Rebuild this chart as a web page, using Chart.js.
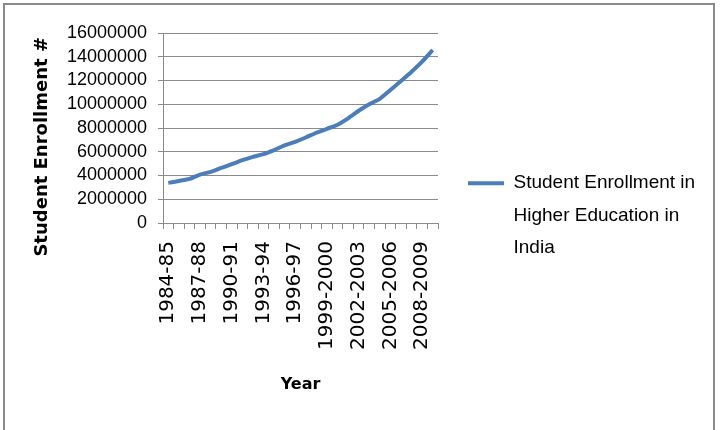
<!DOCTYPE html>
<html>
<head>
<meta charset="utf-8">
<script src="https://cdn.jsdelivr.net/npm/chart.js@4"></script>
<style>
  html, body { margin: 0; padding: 0; background: #fff; }
  #wrap { position: relative; width: 723px; height: 430px; }
  #frame { position: absolute; left: 3px; top: 3px; width: 712px; height: 440px;
           border: 2px solid #8a8a8a; box-sizing: border-box; pointer-events: none; }
</style>
</head>
<body>
<div id="wrap">
  <canvas id="enrollChart" width="723" height="430"></canvas>
  <div id="frame"></div>
</div>
<script>
var years = ["1984-85", "1985-86", "1986-87", "1987-88", "1988-89", "1989-90",
  "1990-91", "1991-92", "1992-93", "1993-94", "1994-95", "1995-96", "1996-97",
  "1997-98", "1998-99", "1999-2000", "2000-2001", "2001-2002", "2002-2003",
  "2003-2004", "2004-2005", "2005-2006", "2006-2007", "2007-2008", "2008-2009",
  "2009-2010"];

var enrollment = [3380000, 3540000, 3710000, 4080000, 4300000, 4640000,
  4950000, 5290000, 5570000, 5800000, 6140000, 6530000, 6840000,
  7200000, 7600000, 7930000, 8270000, 8810000, 9450000,
  10000000, 10460000, 11200000, 11960000, 12740000, 13590000,
  14570000];

var seriesName = ["Student Enrollment in", "Higher Education in", "India"];
var yTicks = [0, 2000000, 4000000, 6000000, 8000000, 10000000, 12000000, 14000000, 16000000];

var lineColor = "#4a7ebb";
var gridColor = "#8a8a8a";

var ctx = document.getElementById('enrollChart').getContext("2d");

var myChart = new Chart(ctx, {
  type: 'line',
  data: {
    labels: years,
    datasets: [{
      label: seriesName.join(" "),
      borderColor: lineColor,
      backgroundColor: lineColor,
      borderWidth: 4,
      pointRadius: 0,
      tension: 0.2,
      fill: false,
      data: enrollment
    }]
  },
  options: {
    responsive: false,
    animation: false,
    layout: {
      padding: { top: 33, right: 20, bottom: 18, left: 0 }
    },
    scales: {
      x: {
        offset: true,
        grid: {
          offset: true,
          drawOnChartArea: false,
          drawTicks: true,
          tickLength: 6,
          color: gridColor
        },
        border: { color: gridColor, width: 1 },
        ticks: {
          autoSkip: false,
          maxRotation: 90,
          minRotation: 90,
          padding: 12,
          color: "#000",
          font: { family: "DejaVu Sans", size: 20 },
          callback: function (value, index) {
            return index % 3 === 0 ? years[index] : "";
          }
        },
        title: {
          display: true,
          text: "Year",
          color: "#000",
          font: { family: "DejaVu Sans", size: 16, weight: "bold" },
          padding: { top: 0, bottom: 18 }
        },
        afterFit: function (scale) { scale.height = 189; }
      },
      y: {
        min: 0,
        max: yTicks[yTicks.length - 1],
        afterBuildTicks: function (scale) {
          scale.ticks = yTicks.map(function (v) { return { value: v }; });
        },
        grid: {
          color: gridColor,
          tickLength: 5
        },
        border: { color: gridColor, width: 1 },
        ticks: {
          autoSkip: false,
          padding: 11,
          color: "#000",
          font: { family: "Liberation Sans", size: 18 },
          callback: function (value) { return String(value); }
        },
        title: {
          display: true,
          // trailing spaces push the centred title down, as in the original
          text: "Student Enrollment #      ",
          color: "#000",
          font: { family: "DejaVu Sans", size: 18, weight: "bold" },
          padding: { top: 32, bottom: 0 }
        },
        afterFit: function (scale) { scale.width = 163; }
      }
    },
    plugins: {
      legend: {
        display: true,
        position: 'right',
        maxWidth: 265,
        labels: {
          boxWidth: 36,
          boxHeight: 4,
          padding: 30,
          color: "#000",
          font: { family: "Liberation Sans", size: 19, lineHeight: 1.71 },
          generateLabels: function () {
            return [{
              text: seriesName,
              fillStyle: lineColor,
              strokeStyle: lineColor,
              lineWidth: 0,
              hidden: false,
              datasetIndex: 0
            }];
          }
        }
      },
      tooltip: { enabled: false }
    }
  }
});
</script>
</body>
</html>
